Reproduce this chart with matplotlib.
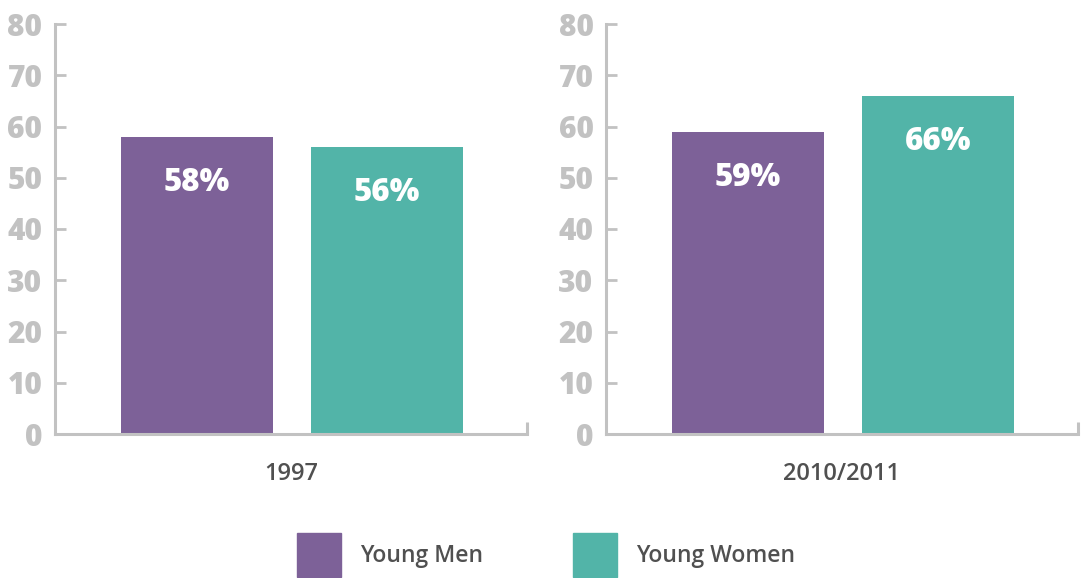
import matplotlib.pyplot as plt
from matplotlib.patches import Patch

plt.rcParams['font.family'] = ['Open Sans', 'DejaVu Sans']

periods = ['1997', '2010/2011']
groups = ['Young Men', 'Young Women']
values = {
    '1997': [58, 56],
    '2010/2011': [59, 66],
}
colors = ['#7D6198', '#52B4A8']
yticks = [0, 10, 20, 30, 40, 50, 60, 70, 80]

axis_grey = '#C2C2C2'
label_grey = '#505050'

fig = plt.figure(figsize=(10.88, 5.78), dpi=100)
lefts = [55 / 1088, 606 / 1088]
axes = [fig.add_axes([l, 1 - 434 / 578, 472 / 1088, 410 / 578]) for l in lefts]

for ax, period in zip(axes, periods):
    vals = values[period]
    xs = range(len(vals))
    ax.bar(xs, vals, width=0.8, color=colors)
    for x, v in zip(xs, vals):
        ax.text(x, v - 9, f"{v}%", ha='center', va='center', color='white',
                fontsize=22.5, fontweight='heavy')

    ax.set_ylim(0, 80)
    ax.set_xlim(-0.747, 1.737)
    ax.set_yticks(yticks)
    ax.set_xticks([])
    ax.tick_params(axis='y', direction='in', length=8, width=2, color=axis_grey,
                   pad=9, labelsize=21.5, labelcolor=axis_grey)
    for lab in ax.get_yticklabels():
        lab.set_fontweight('heavy')
    for s in ['top', 'right']:
        ax.spines[s].set_visible(False)
    for s in ['left', 'bottom']:
        ax.spines[s].set_color(axis_grey)
        ax.spines[s].set_linewidth(2.2)
    # small upturn at the right end of the baseline
    ax.plot([1, 1], [0, 0.03], transform=ax.transAxes, color=axis_grey,
            lw=2.2, clip_on=False, solid_capstyle='butt')
    ax.set_xlabel(period, fontsize=17, color=label_grey, labelpad=20,
                  fontweight='semibold')

# lighter top ticks on the first panel
for t in axes[0].yaxis.get_major_ticks()[-2:]:
    t.tick1line.set_color('#E6E6E6')

handles = [Patch(color=c, label=g) for c, g in zip(colors, groups)]
leg = fig.legend(handles=handles, loc='center', bbox_to_anchor=(546 / 1088, 1 - 555 / 578),
                 ncol=2, frameon=False, fontsize=16.5, handlelength=1.92, handleheight=2.57,
                 handletextpad=0.85, columnspacing=3.9, labelcolor=label_grey)
for t in leg.get_texts():
    t.set_fontweight('semibold')

fig.savefig('out.png', dpi=100)
